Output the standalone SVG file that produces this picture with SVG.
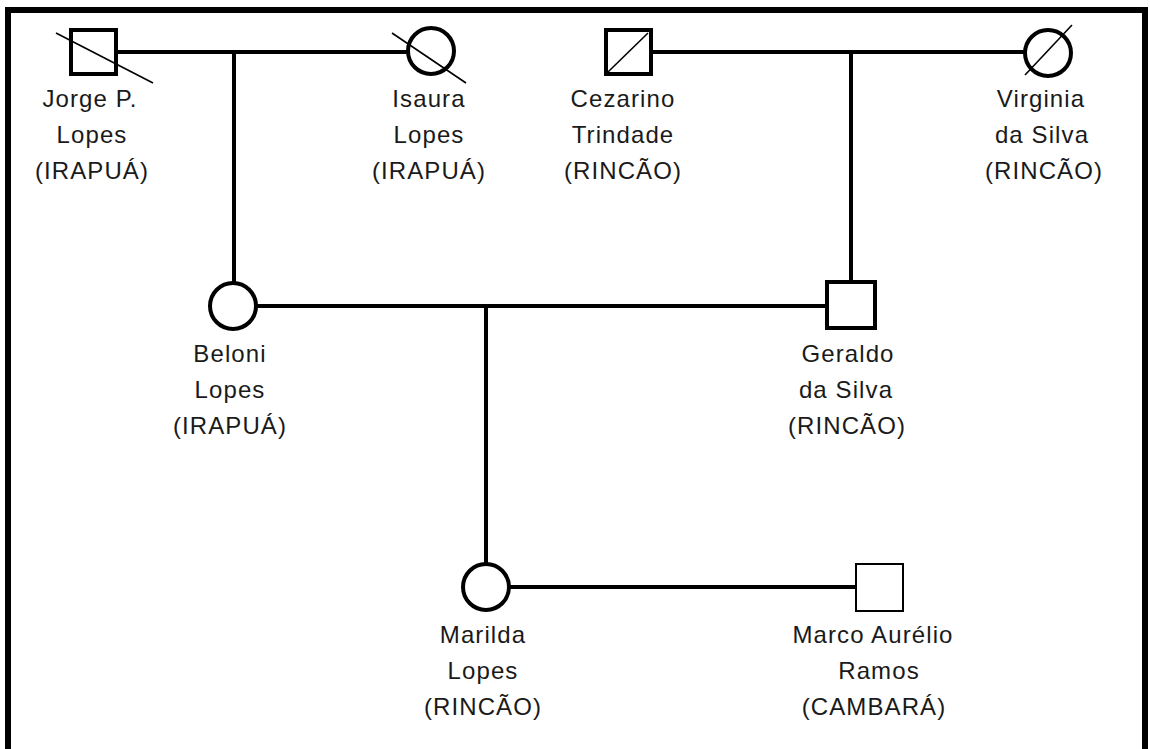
<svg xmlns="http://www.w3.org/2000/svg" width="1150" height="749" viewBox="0 0 1150 749">
<style>
.frame{fill:none;stroke:#000;stroke-width:6}
.ln{fill:none;stroke:#000;stroke-width:4}
.sym{fill:#fff;stroke:#000;stroke-width:4}
.thin{fill:#fff;stroke:#000;stroke-width:2}
.dx{stroke:#000;stroke-width:1.6}
text{font-family:"Liberation Sans",Arial,sans-serif;font-size:24px;letter-spacing:1.1px;fill:#1a1a1a;text-anchor:middle}
</style>
<rect width="1150" height="749" fill="#fff"/>
<rect class="frame" x="8" y="10" width="1137" height="750"/>
<g id="connectors">
<line class="ln" x1="116" y1="52" x2="408" y2="52"/>
<line class="ln" x1="234" y1="52" x2="234" y2="283"/>
<line class="ln" x1="652" y1="52" x2="1024" y2="52"/>
<line class="ln" x1="851" y1="52" x2="851" y2="281"/>
<line class="ln" x1="257" y1="306" x2="826" y2="306"/>
<line class="ln" x1="486" y1="306" x2="486" y2="564"/>
<line class="ln" x1="510" y1="587" x2="856" y2="587"/>
</g>
<g id="jorge">
<rect class="sym" x="71" y="30" width="45" height="44"/>
<line class="dx" x1="56" y1="33" x2="153" y2="83"/>
<text x="90" y="107">Jorge P.</text><text x="92" y="143">Lopes</text><text x="92" y="179">(IRAPUÁ)</text>
</g>
<g id="isaura">
<circle class="sym" cx="431" cy="51" r="23"/>
<line class="dx" x1="392" y1="33" x2="466" y2="83"/>
<text x="429" y="107">Isaura</text><text x="429" y="143">Lopes</text><text x="429" y="179">(IRAPUÁ)</text>
</g>
<g id="cezarino">
<rect class="sym" x="606" y="30" width="45" height="44"/>
<line class="dx" x1="608" y1="72" x2="648" y2="33"/>
<text x="623" y="107">Cezarino</text><text x="623" y="143">Trindade</text><text x="623" y="179">(RINCÃO)</text>
</g>
<g id="virginia">
<circle class="sym" cx="1048" cy="53" r="23"/>
<line class="dx" x1="1025" y1="75" x2="1072" y2="25"/>
<text x="1041" y="107">Virginia</text><text x="1042" y="143">da Silva</text><text x="1044" y="179">(RINCÃO)</text>
</g>
<g id="beloni">
<circle class="sym" cx="233" cy="306" r="23"/>
<text x="230" y="362">Beloni</text><text x="230" y="398">Lopes</text><text x="230" y="434">(IRAPUÁ)</text>
</g>
<g id="geraldo">
<rect class="sym" x="827" y="282" width="48" height="46"/>
<text x="848" y="362">Geraldo</text><text x="846" y="398">da Silva</text><text x="847" y="434">(RINCÃO)</text>
</g>
<g id="marilda">
<circle class="sym" cx="486" cy="587" r="23"/>
<text x="483" y="643">Marilda</text><text x="483" y="679">Lopes</text><text x="483" y="715">(RINCÃO)</text>
</g>
<g id="marco">
<rect class="thin" x="856" y="564" width="47" height="47"/>
<text x="873" y="643">Marco Aurélio</text><text x="879" y="679">Ramos</text><text x="874" y="715">(CAMBARÁ)</text>
</g>
</svg>
